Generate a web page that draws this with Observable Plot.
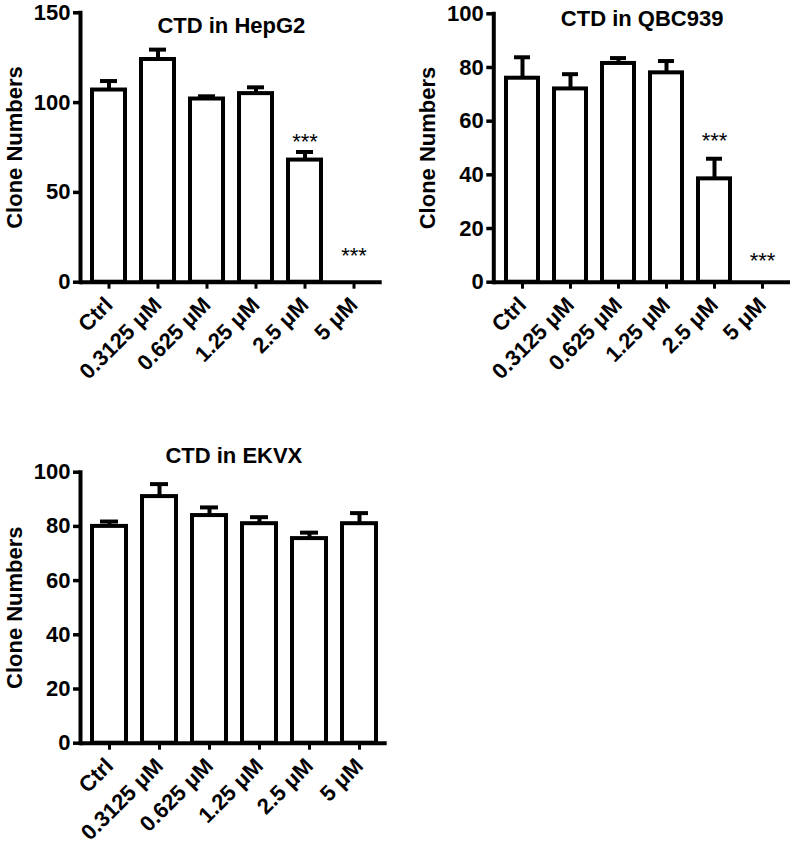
<!DOCTYPE html>
<html>
<head>
<meta charset="utf-8">
<script src="https://cdn.jsdelivr.net/npm/d3@7"></script>
<script src="https://cdn.jsdelivr.net/npm/@observablehq/plot@0.6"></script>
<style>
  body { margin: 0; background: #fff; }
  #wrap { position: relative; width: 797px; height: 851px; background: #fff; }
  #wrap svg { position: absolute; background: transparent; }
</style>
</head>
<body>
<div id="wrap"></div>
<script>
const doses = ["Ctrl", "0.3125 μM", "0.625 μM", "1.25 μM", "2.5 μM", "5 μM"];

const hepg2Mean = [107, 124, 102, 105, 68, 0];
const hepg2Sem  = [5, 5.5, 1.5, 3.5, 4.5, 0];
const hepg2Stars = [{dose: "2.5 μM", y: 78, text: "***"}, {dose: "5 μM", y: 14.5, text: "***"}];

const qbcMean = [76, 72, 81.5, 78, 38.5, 0];
const qbcSem  = [7.8, 5.5, 2, 4.4, 7.5, 0];
const qbcStars = [{dose: "2.5 μM", y: 52.5, text: "***"}, {dose: "5 μM", y: 7.8, text: "***"}];

const ekvxMean = [80, 91, 84, 81, 75.5, 81];
const ekvxSem  = [1.8, 4.6, 3, 2.4, 2.2, 3.9];
const ekvxStars = [];

const titles = ["CTD in HepG2", "CTD in QBC939", "CTD in EKVX"];
const yTicks1 = [0, 50, 100, 150];
const yTicks2 = [0, 20, 40, 60, 80, 100];

const FONT = "'Liberation Sans', Arial, Helvetica, sans-serif";

function panel({title, means, sems, stars, yMax, yTicks, left, top, width, height, mL, mR, mT, mB, titleDy}) {
  const data = doses.map((d, i) => ({dose: d, mean: means[i], sem: sems[i]}));
  const shown = data.filter(d => d.mean > 0);
  const svg = Plot.plot({
    width, height,
    marginLeft: mL, marginRight: mR, marginTop: mT, marginBottom: mB,
    style: {fontFamily: FONT, fontSize: "22px", fontWeight: "bold", color: "#000", background: "transparent"},
    x: {type: "band", domain: doses, paddingInner: 0.33, paddingOuter: 0.21},
    y: {domain: [0, yMax]},
    marks: [
      Plot.barY(shown, {x: "dose", y: "mean", fill: "white", stroke: "black", strokeWidth: 4}),
      Plot.ruleX(shown, {x: "dose", y1: "mean", y2: d => d.mean + d.sem, stroke: "black", strokeWidth: 4}),
      Plot.tickY(shown, {x: "dose", y: d => d.mean + d.sem, stroke: "black", strokeWidth: 4, insetLeft: 8, insetRight: 8}),
      Plot.text(stars, {x: "dose", y: "y", text: "text", fontSize: 22, fontWeight: "normal", lineAnchor: "middle", fill: "black"}),
      Plot.ruleY([0], {stroke: "black", strokeWidth: 4}),
      Plot.frame({anchor: "left", stroke: "black", strokeWidth: 4}),
      Plot.axisY({ticks: yTicks, tickSize: 7, tickPadding: 3, strokeWidth: 3.5, fontSize: 22,
        label: "Clone Numbers", labelAnchor: "center", labelArrow: "none", labelOffset: 74}),
      Plot.axisX({tickSize: 7, tickPadding: 12, strokeWidth: 3, tickRotate: -45, fontSize: 22, label: null}),
      Plot.text([title], {text: d => d, frameAnchor: "top", dy: titleDy, lineAnchor: "middle", fontSize: 22, fontWeight: "bold", fill: "black"})
    ]
  });
  svg.style.left = left + "px";
  svg.style.top = top + "px";
  return svg;
}

const wrap = document.getElementById("wrap");
wrap.appendChild(panel({title: titles[0], means: hepg2Mean, sems: hepg2Sem, stars: hepg2Stars, yMax: 150, yTicks: yTicks1,
  left: 0, top: 0, width: 400, height: 440, mL: 80, mR: 18.3, mT: 12.3, mB: 158.3, titleDy: 13.2}));
wrap.appendChild(panel({title: titles[1], means: qbcMean, sems: qbcSem, stars: qbcStars, yMax: 100, yTicks: yTicks2,
  left: 400, top: 0, width: 397, height: 440, mL: 93.3, mR: 7, mT: 13.3, mB: 158.3, titleDy: 5.2}));
wrap.appendChild(panel({title: titles[2], means: ekvxMean, sems: ekvxSem, stars: ekvxStars, yMax: 100, yTicks: yTicks2,
  left: 0, top: 440, width: 400, height: 411, mL: 80, mR: 13.3, mT: 31.7, mB: 108.3, titleDy: -16.2}));
</script>
</body>
</html>
